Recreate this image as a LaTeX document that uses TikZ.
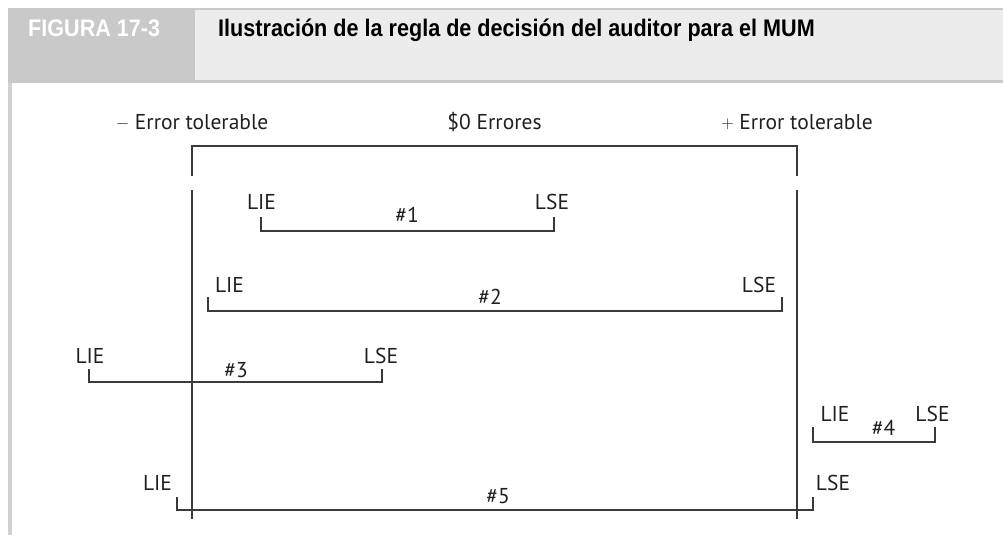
\documentclass[tikz,border=0pt]{standalone}
\usepackage{fontspec}
\setmainfont{PT Sans}
\newfontfamily\headfont[FakeStretch=0.9]{Liberation Sans}
\usepackage{xcolor}
\usepackage{tikz}

\definecolor{headdark}{HTML}{C9C9C9}
\definecolor{headlight}{HTML}{ECECEC}
\definecolor{ink}{HTML}{231F20}
\definecolor{rule}{HTML}{3A3A3A}

\begin{document}
\begin{tikzpicture}[x=1pt, y=-1pt,
    lbl/.style={inner sep=0pt, anchor=base, text=ink, font=\fontsize{21.5}{25}\selectfont},
    headtxt/.style={inner sep=0pt, anchor=base west, font=\headfont\bfseries\fontsize{24}{28}\selectfont},
    frame/.style={rule, line width=1.4pt},
    bracket/.style={rule, line width=1.2pt}]
    \useasboundingbox (0,0) rectangle (1003,537);

    % Header band and left margin rule
    \fill[headdark] (8,8) rectangle (1003,83);
    \fill[headlight] (195,10) rectangle (1003,80);
    \fill[headdark!85] (8,83) rectangle (12,535);
    \node[headtxt, text=white] (fig) at (28,37) {FIGURA 17-3};
    \node[headtxt, text=black] (title) at (218,37) {Ilustración de la regla de decisión del auditor para el MUM};

    % Labels over the tolerable range
    \def\sgn#1{\raisebox{1pt}{\fontsize{18}{18}\selectfont$#1$}}
    \node[lbl] (tolm) at (192,130) {\sgn{-} Error tolerable};
    \node[lbl] (zero) at (494.5,130) {\$0 Errores};
    \node[lbl] (tolp) at (797,130) {\sgn{+} Error tolerable};

    % Tolerable range: open box with a gap in both sides
    \coordinate (tl) at (192,146);
    \coordinate (tr) at (797,146);
    \coordinate (gl) at (192,176);
    \coordinate (gr) at (797,176);
    \coordinate (ul) at (192,190);
    \coordinate (ur) at (797,190);
    \coordinate (dl) at (192,519);
    \coordinate (dr) at (797,519);
    \draw[frame] (gl) -- (tl) -- (tr) -- (gr);
    \draw[frame] (ul) -- (dl);
    \draw[frame] (ur) -- (dr);

    % Interval #1
    \coordinate (a1) at (261,231);
    \coordinate (b1) at (554,231);
    \draw[bracket] (a1) ++(0,-14) -- (a1) -- (b1) -- ++(0,-14);
    \node[lbl] (lie1) at (261.5,210) {LIE};
    \node[lbl] (lse1) at (552,210) {LSE};
    \node[lbl] (n1) at (407,223) {\#1};

    % Interval #2
    \coordinate (a2) at (208,311);
    \coordinate (b2) at (782,311);
    \draw[bracket] (a2) ++(0,-14) -- (a2) -- (b2) -- ++(0,-14);
    \node[lbl] (lie2) at (229.5,292) {LIE};
    \node[lbl] (lse2) at (759,292) {LSE};
    \node[lbl] (n2) at (490,304) {\#2};

    % Interval #3
    \coordinate (a3) at (89,382);
    \coordinate (b3) at (382,382);
    \draw[bracket] (a3) ++(0,-13) -- (a3) -- (b3) -- ++(0,-13);
    \node[lbl] (lie3) at (90,363) {LIE};
    \node[lbl] (lse3) at (381,363) {LSE};
    \node[lbl] (n3) at (236,377) {\#3};

    % Interval #4
    \coordinate (a4) at (813,442);
    \coordinate (b4) at (935,442);
    \draw[bracket] (a4) ++(0,-15) -- (a4) -- (b4) -- ++(0,-15);
    \node[lbl] (lie4) at (835,421) {LIE};
    \node[lbl] (lse4) at (932.5,421) {LSE};
    \node[lbl] (n4) at (883.5,435) {\#4};

    % Interval #5
    \coordinate (a5) at (177,510);
    \coordinate (b5) at (813,510);
    \draw[bracket] (a5) ++(0,-13) -- (a5) -- (b5) -- ++(0,-13);
    \node[lbl] (lie5) at (157.5,490) {LIE};
    \node[lbl] (lse5) at (833,490) {LSE};
    \node[lbl] (n5) at (498,503) {\#5};
\end{tikzpicture}
\end{document}
